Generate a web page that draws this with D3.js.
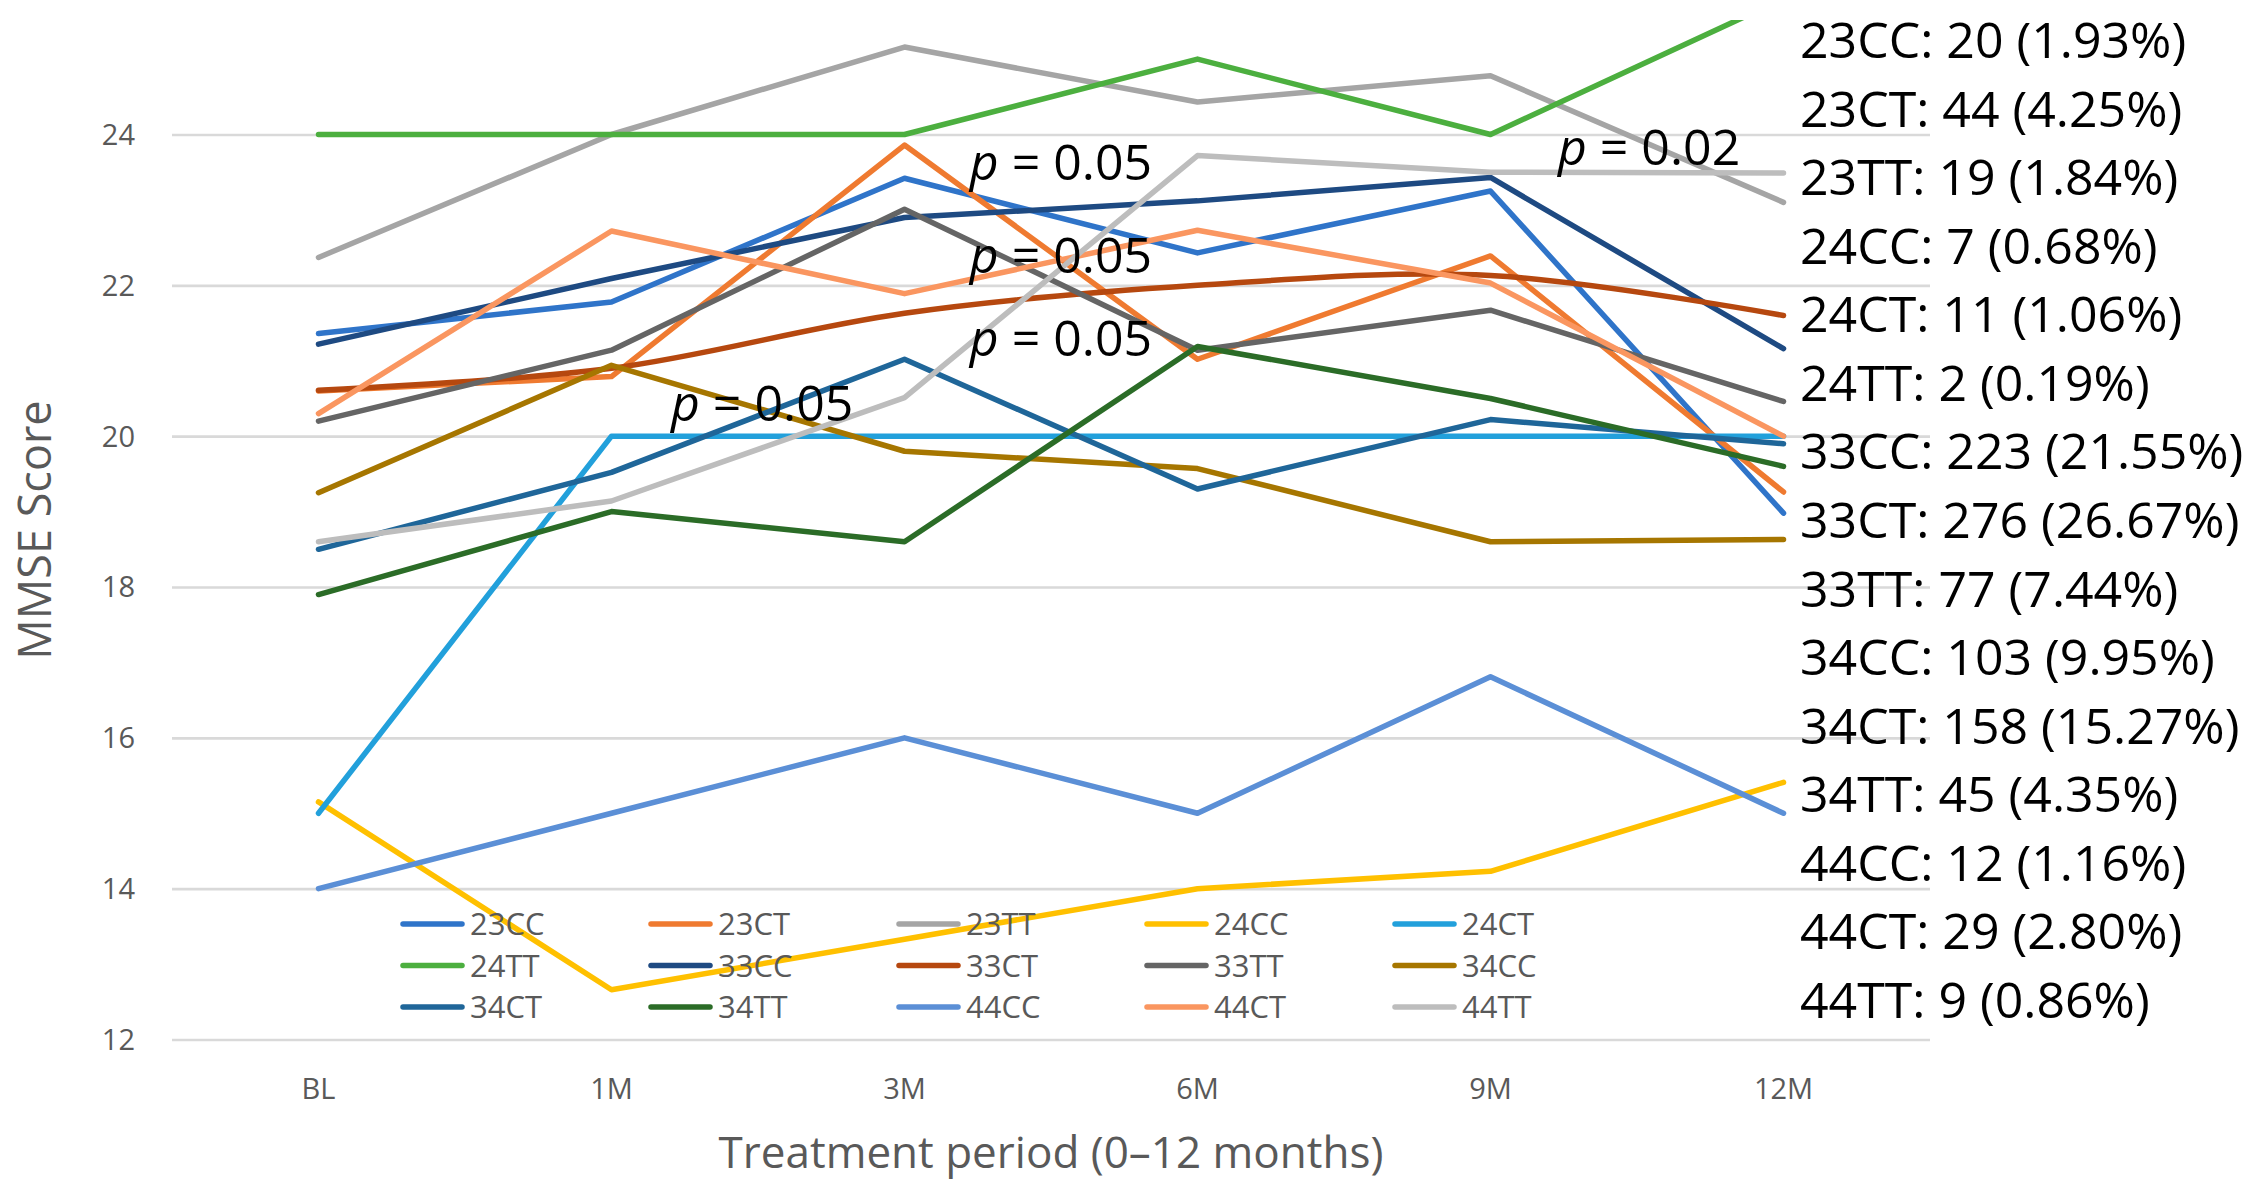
<!DOCTYPE html>
<html>
<head>
<meta charset="utf-8">
<script src="https://cdn.jsdelivr.net/npm/d3@7/dist/d3.min.js"></script>
<style>
  html, body { margin: 0; padding: 0; background: #fff; }
  svg { display: block; }
  text { font-family: "Open Sans", "Noto Sans", sans-serif; }
</style>
</head>
<body>
<svg id="chart" width="2260" height="1193"></svg>
<script>
// ---------- data ----------
const categories = ["BL", "1M", "3M", "6M", "9M", "12M"];
const seriesNames = ["23CC","23CT","23TT","24CC","24CT","24TT","33CC","33CT","33TT","34CC","34CT","34TT","44CC","44CT","44TT"];
const s23CC = [21.36, 21.78, 23.42, 22.43, 23.25, 18.98];
const s23CT = [20.60, 20.79, 23.86, 21.02, 22.39, 19.26];
const s23TT = [22.37, 24.00, 25.16, 24.43, 24.78, 23.10];
const s24CC = [15.15, 12.66, 13.33, 14.00, 14.23, 15.41];
const s24CT = [15.00, 20.00, 20.00, 20.00, 20.00, 20.00];
const s24TT = [24.00, 24.00, 24.00, 25.00, 24.00, 25.80];
const s33CC = [21.22, 22.09, 22.90, 23.12, 23.43, 21.16];
const s33CT = [20.61, 20.90, 21.63, 22.00, 22.13, 21.60];
const s33TT = [20.20, 21.14, 23.01, 21.14, 21.67, 20.46];
const s34CC = [19.25, 20.94, 19.80, 19.57, 18.60, 18.63];
const s34CT = [18.50, 19.52, 21.02, 19.30, 20.22, 19.90];
const s34TT = [17.90, 19.00, 18.60, 21.19, 20.50, 19.60];
const s44CC = [14.00, 15.00, 16.00, 15.00, 16.81, 15.00];
const s44CT = [20.30, 22.72, 21.89, 22.73, 22.03, 20.00];
const s44TT = [18.60, 19.14, 20.51, 23.72, 23.50, 23.49];
const seriesValues = [s23CC,s23CT,s23TT,s24CC,s24CT,s24TT,s33CC,s33CT,s33TT,s34CC,s34CT,s34TT,s44CC,s44CT,s44TT];
const seriesColors = ["#2F74C9","#EF7A30","#A5A5A5","#FFC000","#22A0DB","#4CAF3F","#1E4A82","#B6480F","#656565","#A67600","#1F6699","#2B6C27","#5B8FD6","#FA9660","#BDBDBD"];
const smoothed = ["33CT"];
const yTicks = [12, 14, 16, 18, 20, 22, 24];
const counts = [20, 44, 19, 7, 11, 2, 223, 276, 77, 103, 158, 45, 12, 29, 9];
const percents = ["1.93","4.25","1.84","0.68","1.06","0.19","21.55","26.67","7.44","9.95","15.27","4.35","1.16","2.80","0.86"];
// p-value annotations: position in category-index units and score units
const pLabels = ["0.05", "0.05", "0.05", "0.05", "0.02"];
const pCatPos = [2.223, 2.223, 2.223, 1.203, 4.23];
const pValuePos = [23.40, 22.16, 21.06, 20.20, 23.60];
const yTitle = "MMSE Score";
const xTitle = "Treatment period (0\u201312 months)";

// ---------- layout ----------
const svg = d3.select("#chart");
const plotLeft = 172, plotRight = 1930;
const x = d3.scaleBand().domain(categories).range([plotLeft, plotRight]);
const y = d3.scaleLinear().domain([12, 24]).range([1039.5, 134.5]);
const xi = d3.scaleLinear().domain([0, categories.length - 1])
  .range([x(categories[0]) + x.bandwidth() / 2, x(categories[categories.length - 1]) + x.bandwidth() / 2]);

// gridlines
const yAxis = d3.axisLeft(y).tickValues(yTicks).tickSize(-(plotRight - plotLeft)).tickPadding(37).tickFormat(d3.format("d"));
const gy = svg.append("g").attr("transform", `translate(${plotLeft},0)`).call(yAxis);
gy.select(".domain").remove();
gy.selectAll(".tick line").attr("stroke", "#D9D9D9").attr("stroke-width", 2.6);
gy.selectAll(".tick text").attr("fill", "#595959").style("font-size", "29px").attr("dy", "0.34em");

// x axis labels
const xAxis = d3.axisBottom(x).tickSize(0).tickPadding(0);
const gx = svg.append("g").attr("transform", `translate(0,1099)`).call(xAxis);
gx.select(".domain").remove();
gx.selectAll(".tick text").attr("fill", "#595959").style("font-size", "29px").attr("dy", "0").attr("y", 0);

// clip
svg.append("defs").append("clipPath").attr("id", "plotclip")
  .append("rect").attr("x", 0).attr("y", 20).attr("width", 2260).attr("height", 1173);

const linePlain = d3.line().x((d, i) => x(categories[i]) + x.bandwidth() / 2).y(d => y(d));
const lineSmooth = d3.line().x((d, i) => x(categories[i]) + x.bandwidth() / 2).y(d => y(d)).curve(d3.curveCatmullRom.alpha(0));

const gl = svg.append("g").attr("clip-path", "url(#plotclip)");
seriesNames.forEach((name, k) => {
  gl.append("path")
    .datum(seriesValues[k])
    .attr("d", smoothed.includes(name) ? lineSmooth : linePlain)
    .attr("fill", "none")
    .attr("stroke", seriesColors[k])
    .attr("stroke-width", 5.5)
    .attr("stroke-linejoin", "round")
    .attr("stroke-linecap", "round");
});

// legend (5 columns x 3 rows)
const legCol = d3.scaleLinear().domain([0, 4]).range([401, 1393]);
const legRow = d3.scaleLinear().domain([0, 2]).range([924, 1007]);
const lg = svg.append("g");
seriesNames.forEach((name, k) => {
  const c = k % 5, r = Math.floor(k / 5);
  const g = lg.append("g").attr("transform", `translate(${legCol(c)},${legRow(r)})`);
  g.append("line").attr("x1", 2).attr("x2", 61).attr("y1", 0).attr("y2", 0)
    .attr("stroke", seriesColors[k]).attr("stroke-width", 5.5).attr("stroke-linecap", "round");
  g.append("text").attr("x", 69).attr("y", 11).attr("fill", "#595959")
    .style("font-size", "31px").text(name);
});

// axis titles
svg.append("text")
  .attr("transform", `translate(51,530) rotate(-90)`)
  .attr("text-anchor", "middle").attr("fill", "#595959")
  .style("font-size", "45px").text(yTitle);
svg.append("text")
  .attr("x", (plotLeft + plotRight) / 2).attr("y", 1168)
  .attr("text-anchor", "middle").attr("fill", "#595959")
  .style("font-size", "44px").text(xTitle);

// p-value annotations
pLabels.forEach((lab, i) => {
  const t = svg.append("text").attr("x", xi(pCatPos[i])).attr("y", y(pValuePos[i]))
    .attr("fill", "#000").style("font-size", "50px");
  t.append("tspan").style("font-style", "italic").text("p");
  t.append("tspan").text(" = " + lab);
});

// genotype counts on the right
const rowY = d3.scaleLinear().domain([0, seriesNames.length - 1]).range([58, 1018]);
seriesNames.forEach((name, k) => {
  svg.append("text").attr("x", 1800).attr("y", rowY(k))
    .attr("fill", "#000").style("font-size", "50px")
    .text(`${name}: ${counts[k]} (${percents[k]}%)`);
});
</script>
</body>
</html>
